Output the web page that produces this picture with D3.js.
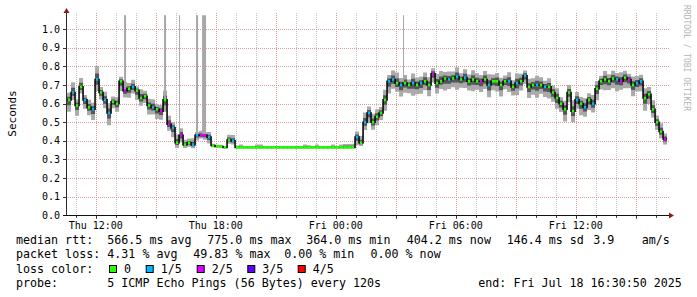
<!DOCTYPE html>
<html>
<head>
<meta charset="utf-8">
<script src="https://cdn.jsdelivr.net/npm/d3@7"></script>
<style>
  body { margin: 0; background: #fff; }
  svg { display: block; font-family: "DejaVu Sans Mono", monospace; }
</style>
</head>
<body>
<svg id="chart" width="697" height="297"></svg>
<script>
// window of the graph
const graphStart = "2025-07-17T10:30:50";
const graphEnd = "2025-07-18T16:30:50";

// one sample every 12 minutes, starting here
const sampleStart = "2025-07-17T10:34:00";
const stepMinutes = 12;

// median rtt in seconds
const medianRtt = [
  0.62,0.66,0.59,0.69,0.62,0.58,0.57,0.73,0.66,0.62,
  0.55,0.61,0.60,0.72,0.67,0.68,0.69,0.67,0.63,0.64,
  0.59,0.58,0.57,0.56,0.62,0.49,0.47,0.39,0.43,0.38,
  0.39,0.38,0.43,0.43,0.43,0.42,0.375,0.37,0.37,0.365,
  0.405,0.40,0.365,0.365,0.365,0.365,0.365,0.365,0.365,0.365,
  0.365,0.365,0.365,0.365,0.365,0.365,0.365,0.365,0.365,0.365,
  0.365,0.365,0.365,0.365,0.365,0.365,0.365,0.365,0.365,0.365,
  0.365,0.365,0.42,0.39,0.50,0.55,0.50,0.53,0.55,0.62,
  0.72,0.73,0.71,0.70,0.71,0.70,0.71,0.70,0.71,0.72,
  0.70,0.76,0.71,0.72,0.735,0.73,0.735,0.745,0.73,0.74,
  0.72,0.73,0.72,0.72,0.73,0.70,0.72,0.72,0.70,0.72,
  0.72,0.69,0.71,0.72,0.75,0.69,0.70,0.70,0.70,0.69,
  0.69,0.66,0.63,0.60,0.57,0.66,0.56,0.62,0.60,0.58,
  0.62,0.60,0.68,0.72,0.73,0.72,0.735,0.73,0.72,0.74,
  0.73,0.70,0.71,0.72,0.63,0.65,0.57,0.50,0.45,0.41
];

// lost pings out of 5 per sample
const lossLevel = [
  0,1,0,0,1,0,1,1,0,1,
  1,0,0,0,2,0,1,0,0,0,
  0,1,0,2,0,2,1,0,2,0,
  0,1,1,2,2,1,0,0,0,0,
  0,1,0,0,0,0,0,0,0,0,
  0,0,0,0,0,0,0,0,0,0,
  0,0,0,0,0,0,0,0,0,0,
  0,0,1,0,1,1,0,0,0,0,
  1,1,0,1,0,0,1,0,1,0,
  0,2,0,0,0,1,0,1,0,1,
  0,0,0,2,0,1,0,0,0,0,
  1,0,1,0,1,0,0,1,0,1,
  0,0,0,0,0,0,0,1,0,1,
  0,1,0,0,0,0,0,1,2,0,
  2,0,1,1,0,0,0,0,0,2
];

// smoke above / below the median, ms
const smokeUp = [
  38,55,32,48,26,41,35,72,30,44,
  52,28,34,25,46,31,38,22,47,29,
  36,43,27,33,50,45,30,44,38,26,
  22,34,18,24,16,28,10,8,6,6,
  28,32,10,15,8,6,6,15,15,6,
  6,6,6,6,6,6,6,6,6,15,
  12,6,15,6,6,6,15,6,15,18,
  18,20,30,36,52,34,46,40,32,55,
  34,48,57,38,44,30,52,41,36,47,
  42,30,49,56,35,42,38,51,33,45,
  37,50,43,34,46,58,36,44,39,31,
  48,35,52,41,28,44,37,50,42,33,
  47,38,52,34,46,40,58,43,35,49,
  36,47,41,30,45,38,42,34,48,37,
  31,46,39,35,52,40,48,36,44,30
];
const smokeDown = [
  64,40,55,36,48,42,58,62,38,45,
  66,35,44,52,37,48,35,50,42,36,
  48,38,52,46,64,36,50,28,38,18,
  22,20,28,18,24,34,10,4,4,4,
  20,20,4,4,4,4,4,4,4,4,
  4,4,4,4,4,4,4,4,4,4,
  4,4,4,4,4,4,4,4,4,4,
  4,4,44,18,42,55,40,46,38,58,
  66,50,46,62,52,44,68,50,57,48,
  60,46,55,42,64,52,47,70,44,56,
  50,64,45,58,52,66,48,55,61,43,
  57,46,63,50,44,60,52,68,47,55,
  62,50,58,45,66,52,60,48,62,50,
  54,48,62,44,58,47,52,64,46,57,
  48,60,45,54,68,52,44,42,36,30
];

// timeouts that reach the top of the graph
const spikeFrom = ["2025-07-17T13:25","2025-07-17T15:25","2025-07-17T16:10","2025-07-17T17:01","2025-07-17T17:19","2025-07-18T03:22"];
const spikeTo   = ["2025-07-17T13:31","2025-07-17T15:31","2025-07-17T16:13","2025-07-17T17:07","2025-07-17T17:31","2025-07-18T03:25"];
const spikeTop = 1.075;

const yTicks = [0.0,0.1,0.2,0.3,0.4,0.5,0.6,0.7,0.8,0.9,1.0];
const yMax = 1.087;

const lossNames = ["0","1/5","2/5","3/5","4/5"];
const lossColors = ["#26ff00","#00b8ff","#dd00ff","#5e00ff","#ff0000"];

const rttStats = [["566.5 ms avg",107.3],["775.0 ms max",207.3],["364.0 ms min",306.2],["404.2 ms now",406.7],["146.4 ms sd",506.7],["3.9",593.3],["am/s",641.7]];
const lossStats = [["4.31 % avg",107.3],["49.83 % max",193.3],["0.00 % min",284.2],["0.00 % now",370.5]];
const probeText = "5 ICMP Echo Pings (56 Bytes) every 120s";
const endText = "end: Fri Jul 18 16:30:50 2025";

const parseSec = d3.timeParse("%Y-%m-%dT%H:%M:%S");
const parseMin = d3.timeParse("%Y-%m-%dT%H:%M");

const svg = d3.select("#chart");
const plotLeft = 66, plotRight = 666, plotTop = 13, plotBottom = 215.3;

const x = d3.scaleTime()
  .domain([parseSec(graphStart), parseSec(graphEnd)])
  .range([plotLeft, plotRight]);
const y = d3.scaleLinear().domain([0, yMax]).range([plotBottom, plotTop]);

const t0 = parseSec(sampleStart);
let samples = medianRtt.map((m, i) => ({
  t: d3.timeMinute.offset(t0, i * stepMinutes),
  t1: d3.timeMinute.offset(t0, (i + 1) * stepMinutes),
  m: m,
  loss: lossLevel[i],
  hi: m + smokeUp[i] / 1000,
  lo: m - smokeDown[i] / 1000,
  flat: i + 1 < medianRtt.length && medianRtt[i + 1] === m && lossLevel[i + 1] === lossLevel[i]
}));
const lastSample = samples[samples.length - 1];
let edge = samples.concat([{t: lastSample.t1, m: lastSample.m, hi: lastSample.hi, lo: lastSample.lo}]);

function sampleAt(t) {
  let i = Math.floor(d3.timeMinute.count(t0, t) / stepMinutes);
  return samples[Math.max(0, Math.min(samples.length - 1, i))];
}

// grid
let hours = d3.timeHour.range(x.domain()[0], x.domain()[1]);
let grid = svg.append("g");
grid.selectAll(".vg").data(hours).join("line")
  .attr("x1", d => Math.round(x(d)) + 0.5).attr("x2", d => Math.round(x(d)) + 0.5)
  .attr("y1", plotTop).attr("y2", plotBottom)
  .attr("stroke", d => d.getHours() % 3 === 0 ? "#e09a9a" : "#c4c4c4")
  .attr("stroke-dasharray", "1,1");
grid.selectAll(".hg").data(yTicks.slice(1)).join("line")
  .attr("x1", plotLeft).attr("x2", 669)
  .attr("y1", d => Math.round(y(d)) + 0.5).attr("y2", d => Math.round(y(d)) + 0.5)
  .attr("stroke", "#e09a9a")
  .attr("stroke-dasharray", "1,1");

// smoke
let area = d3.area().curve(d3.curveStepAfter).x(d => x(d.t));
svg.append("path").datum(edge)
  .attr("d", area.y0(d => y(d.lo)).y1(d => y(d.hi)))
  .attr("fill", "#aaaaaa");
svg.append("path").datum(edge)
  .attr("d", area.y0(d => y(d.m - (d.m - d.lo) * 0.45)).y1(d => y(d.m + (d.hi - d.m) * 0.45)))
  .attr("fill", "#555555");

svg.append("g").selectAll("rect").data(spikeFrom).join("rect")
  .attr("x", d => x(parseMin(d)))
  .attr("width", (d, i) => x(parseMin(spikeTo[i])) - x(parseMin(d)))
  .attr("y", y(spikeTop))
  .attr("height", d => y(sampleAt(parseMin(d)).m) - y(spikeTop))
  .attr("fill", "#a8a8a8");

// median
svg.append("path").datum(edge)
  .attr("d", d3.line().curve(d3.curveStepAfter).x(d => x(d.t)).y(d => y(d.m)))
  .attr("fill", "none").attr("stroke", "#0a0a0a").attr("stroke-width", 1.6);
svg.append("g").selectAll("rect").data(samples).join("rect")
  .attr("x", d => x(d.t) + 0.8)
  .attr("width", d => d.flat ? x(d.t1) - x(d.t) : 2.4)
  .attr("y", d => y(d.m) - 1.3)
  .attr("height", 2.6)
  .attr("fill", d => lossColors[d.loss]);

// axes
let ax = svg.append("g");
ax.selectAll(".yt").data(yTicks).join("line")
  .attr("x1", 63).attr("x2", plotLeft)
  .attr("y1", d => Math.round(y(d)) + 0.5).attr("y2", d => Math.round(y(d)) + 0.5)
  .attr("stroke", "#333");
ax.selectAll(".xt").data(hours).join("line")
  .attr("x1", d => Math.round(x(d)) + 0.5).attr("x2", d => Math.round(x(d)) + 0.5)
  .attr("y1", plotBottom).attr("y2", d => d.getHours() % 3 === 0 ? plotBottom + 3.5 : plotBottom + 2.5)
  .attr("stroke", "#333");
ax.append("line").attr("x1", plotLeft + 0.5).attr("x2", plotLeft + 0.5).attr("y1", plotBottom + 0.5).attr("y2", 12)
  .attr("stroke", "#2c2c2c");
ax.append("line").attr("x1", 63).attr("x2", 670).attr("y1", 215.5).attr("y2", 215.5)
  .attr("stroke", "#111");
ax.append("path").attr("d", "M63.5,13L69.5,13L66.5,8Z").attr("fill", "#8c1c1c");
ax.append("path").attr("d", "M669,212.5L669,218.5L674,215.5Z").attr("fill", "#8c1c1c");

ax.selectAll(".yl").data(yTicks).join("text")
  .attr("x", 60).attr("y", d => y(d) + 3.6)
  .attr("text-anchor", "end").attr("font-size", 10).attr("fill", "#000")
  .text(d3.format(".1f"));

let labelHours = hours.filter(d => d.getHours() % 6 === 0);
ax.selectAll(".xl").data(labelHours).join("text")
  .attr("x", d => x(d)).attr("y", 229)
  .attr("text-anchor", "middle").attr("font-size", 10).attr("fill", "#000")
  .text(d3.timeFormat("%a %H:%M"));

svg.append("text")
  .attr("transform", "translate(15.5,113.5) rotate(-90)")
  .attr("text-anchor", "middle").attr("font-size", 11)
  .text("Seconds");

svg.append("text")
  .attr("transform", "translate(684,5) rotate(90)")
  .attr("font-size", 8).attr("fill", "#b4b4b4")
  .text("RRDTOOL / TOBI OETIKER");

// legend
let leg = svg.append("g").attr("font-size", 11.67).attr("fill", "#000");
const rows = [244, 258.3, 272.6, 286.9];
leg.append("text").attr("x", 16).attr("y", rows[0]).text("median rtt:");
leg.selectAll(".r").data(rttStats).join("text")
  .attr("x", d => d[1]).attr("y", rows[0]).text(d => d[0]);
leg.append("text").attr("x", 16).attr("y", rows[1]).text("packet loss:");
leg.selectAll(".l").data(lossStats).join("text")
  .attr("x", d => d[1]).attr("y", rows[1]).text(d => d[0]);
leg.append("text").attr("x", 16).attr("y", rows[2]).text("loss color:");
const boxX = [109, 145.7, 196.7, 247.3, 297.7];
leg.selectAll(".b").data(lossNames).join("rect")
  .attr("x", (d, i) => boxX[i] + 0.5).attr("y", 265.5)
  .attr("width", 7).attr("height", 7)
  .attr("fill", (d, i) => lossColors[i]).attr("stroke", "#000");
leg.selectAll(".bl").data(lossNames).join("text")
  .attr("x", (d, i) => boxX[i] + 15).attr("y", rows[2]).text(d => d);
leg.append("text").attr("x", 16).attr("y", rows[3]).text("probe:");
leg.append("text").attr("x", 107.3).attr("y", rows[3]).text(probeText);
leg.append("text").attr("x", 478.3).attr("y", rows[3]).text(endText);
</script>
</body>
</html>
